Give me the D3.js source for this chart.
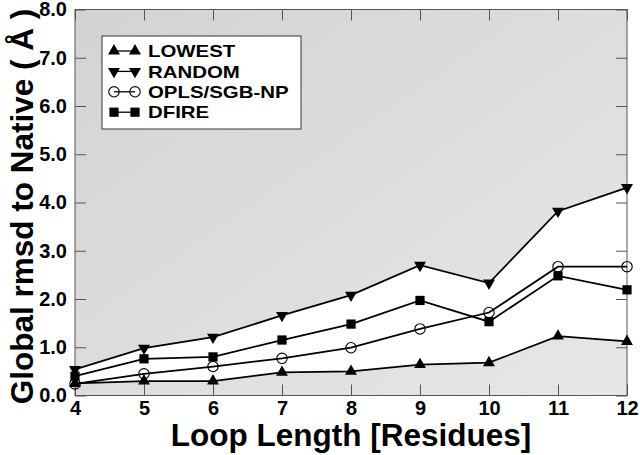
<!DOCTYPE html>
<html>
<head>
<meta charset="utf-8">
<script src="https://cdn.jsdelivr.net/npm/d3@7/dist/d3.min.js"></script>
<style>
  html, body { margin: 0; padding: 0; background: #fff; }
  svg { display: block; }
  text { font-family: "Liberation Sans", Arial, Helvetica, sans-serif; font-weight: bold; }
</style>
</head>
<body>
<svg id="chart" width="640" height="455"></svg>
<script>
// ---- data ----
const loopLengths = [4, 5, 6, 7, 8, 9, 10, 11, 12];
const lowest = [0.25, 0.30, 0.30, 0.48, 0.50, 0.64, 0.68, 1.23, 1.12];
const random = [0.54, 0.98, 1.21, 1.66, 2.08, 2.70, 2.33, 3.82, 4.31];
const opls   = [0.24, 0.45, 0.60, 0.77, 0.99, 1.38, 1.72, 2.67, 2.67];
const dfire  = [0.40, 0.76, 0.80, 1.15, 1.48, 1.97, 1.53, 2.48, 2.19];
const xTicks = [4, 5, 6, 7, 8, 9, 10, 11, 12];
const yTicks = [0, 1, 2, 3, 4, 5, 6, 7, 8];
const seriesNames = ["LOWEST", "RANDOM", "OPLS/SGB-NP", "DFIRE"];
const xTitle = "Loop Length [Residues]";
const yTitle = "Global rmsd to Native ( \u00C5 )";

// ---- layout ----
const svg = d3.select("#chart");
const L = 75, R = 627, T = 9.5, B = 395.5;
const x = d3.scaleLinear().domain([4, 12]).range([L, R]);
const y = d3.scaleLinear().domain([0, 8]).range([B, T]);

// background gradient
const defs = svg.append("defs");
const grad = defs.append("linearGradient").attr("id", "bg")
  .attr("x1", "0%").attr("y1", "0%").attr("x2", "100%").attr("y2", "100%");
grad.append("stop").attr("offset", "0%").attr("stop-color", "#d3d3d3");
grad.append("stop").attr("offset", "100%").attr("stop-color", "#e7e7e7");

svg.append("rect").attr("x", L).attr("y", T).attr("width", R - L).attr("height", B - T)
  .attr("fill", "url(#bg)");

// white band between LOWEST and RANDOM
const band = loopLengths.map((d, i) => ({ x: d, lo: lowest[i], hi: random[i] }));
svg.append("path").datum(band)
  .attr("fill", "#ffffff")
  .attr("d", d3.area().x(d => x(d.x)).y0(d => y(d.lo)).y1(d => y(d.hi)));

// axes
const tickColor = "#555";
const fmt = d3.format(".1f");
const gx = svg.append("g").attr("transform", `translate(0,${B})`)
  .call(d3.axisBottom(x).tickValues(xTicks).tickSize(-11).tickPadding(5).tickFormat(d3.format("d")));
const gy = svg.append("g").attr("transform", `translate(${L},0)`)
  .call(d3.axisLeft(y).tickValues(yTicks).tickSize(-11).tickPadding(8).tickFormat(fmt));
const gxt = svg.append("g").attr("transform", `translate(0,${T})`)
  .call(d3.axisTop(x).tickValues(xTicks).tickSize(-11).tickFormat(""));
const gyr = svg.append("g").attr("transform", `translate(${R},0)`)
  .call(d3.axisRight(y).tickValues(yTicks).tickSize(-11).tickFormat(""));
[gx, gy, gxt, gyr].forEach(g => {
  g.select(".domain").remove();
  g.selectAll(".tick line").attr("stroke", tickColor).attr("stroke-width", 1);
  g.selectAll(".tick text").attr("fill", "#000").style("font-size", "20px")
    .style("font-family", "'Liberation Sans', Arial, sans-serif").style("font-weight", "bold");
});
svg.append("rect").attr("x", L).attr("y", T).attr("width", R - L).attr("height", B - T)
  .attr("fill", "none").attr("stroke", tickColor).attr("stroke-width", 1);

// lines and markers
const series = [
  { name: seriesNames[0], values: lowest, sym: "up" },
  { name: seriesNames[1], values: random, sym: "down" },
  { name: seriesNames[2], values: opls, sym: "circle" },
  { name: seriesNames[3], values: dfire, sym: "square" }
];
const line = d3.line().x(d => x(d.x)).y(d => y(d.v));
const triPath = d3.symbol().type(d3.symbolTriangle).size(62)();
const sqPath = d3.symbol().type(d3.symbolSquare).size(85)();

function drawMarker(g, sym, cx, cy) {
  if (sym === "circle") {
    g.append("circle").attr("cx", cx).attr("cy", cy).attr("r", 5.2)
      .attr("fill", "none").attr("stroke", "#000").attr("stroke-width", 1.1);
  } else if (sym === "square") {
    g.append("path").attr("d", sqPath).attr("transform", `translate(${cx},${cy})`).attr("fill", "#000");
  } else if (sym === "up") {
    g.append("path").attr("d", triPath).attr("transform", `translate(${cx},${cy})`).attr("fill", "#000");
  } else {
    g.append("path").attr("d", triPath).attr("transform", `translate(${cx},${cy}) rotate(180)`).attr("fill", "#000");
  }
}

series.forEach(s => {
  const pts = loopLengths.map((d, i) => ({ x: d, v: s.values[i] }));
  svg.append("path").datum(pts).attr("d", line)
    .attr("fill", "none").attr("stroke", "#000").attr("stroke-width", 1.8);
  const mg = svg.append("g");
  pts.forEach(p => drawMarker(mg, s.sym, x(p.x), y(p.v)));
});

// legend
const lg = svg.append("g");
lg.append("rect").attr("x", 102).attr("y", 36).attr("width", 199).attr("height", 93)
  .attr("fill", "#fff").attr("stroke", "#333").attr("stroke-width", 1);
series.forEach((s, i) => {
  const cy = 51 + i * 20.4;
  lg.append("line").attr("x1", 114).attr("x2", 135).attr("y1", cy).attr("y2", cy)
    .attr("stroke", "#000").attr("stroke-width", 1.3);
  drawMarker(lg, s.sym, 114, cy);
  drawMarker(lg, s.sym, 135, cy);
  const t = lg.append("text").attr("x", 148).attr("y", cy).attr("dy", "0.36em")
    .style("font-size", "17px").text(s.name);
  const w = t.node().getComputedTextLength();
  t.attr("textLength", w * 1.2).attr("lengthAdjust", "spacingAndGlyphs");
});

// titles
svg.append("text").attr("x", (L + R) / 2).attr("y", 446).attr("text-anchor", "middle")
  .style("font-size", "31.5px").text(xTitle);
svg.append("text").attr("transform", `translate(33,${206.5}) rotate(-90)`)
  .attr("text-anchor", "middle").style("font-size", "31.5px").text(yTitle);
</script>
</body>
</html>
